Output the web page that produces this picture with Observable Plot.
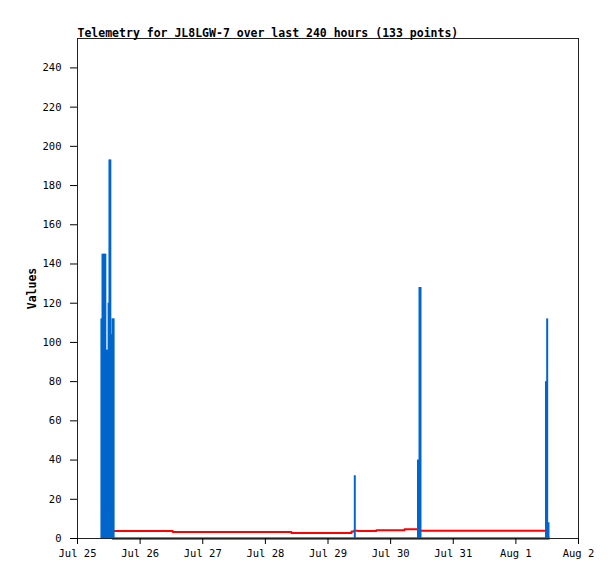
<!DOCTYPE html>
<html>
<head>
<meta charset="utf-8">
<script src="https://cdn.jsdelivr.net/npm/d3@7"></script>
<script src="https://cdn.jsdelivr.net/npm/@observablehq/plot@0.6"></script>
<style>
  body { margin: 0; background: #fff; }
</style>
</head>
<body>
<div id="chart"></div>
<script>
const title = "Telemetry for JL8LGW-7 over last 240 hours (133 points)"

// blue channel (impulses)
const blueTimes = [
  "2024-07-25T09:10", "2024-07-25T09:35", "2024-07-25T10:00", "2024-07-25T10:20",
  "2024-07-25T10:40", "2024-07-25T11:05", "2024-07-25T11:30", "2024-07-25T11:55",
  "2024-07-25T12:15", "2024-07-25T12:35", "2024-07-25T12:50", "2024-07-25T13:00",
  "2024-07-25T13:25", "2024-07-25T13:50",
  "2024-07-29T10:16",
  "2024-07-30T10:29", "2024-07-30T11:04", "2024-07-30T11:27",
  "2024-08-01T11:33", "2024-08-01T12:00", "2024-08-01T12:30"
]
const blueValues = [
  112, 145, 145, 145,
  145, 96, 96, 120,
  193, 193, 104, 15,
  112, 112,
  32,
  40, 128, 128,
  80, 112, 8
]

// red channel (step line)
const redTimes = [
  "2024-07-25T13:00", "2024-07-26T12:31", "2024-07-28T10:00", "2024-07-29T09:00",
  "2024-07-29T10:00", "2024-07-29T11:30", "2024-07-29T18:30", "2024-07-30T05:20",
  "2024-07-30T10:29", "2024-08-01T11:21"
]
const redValues = [3.8, 3.3, 2.8, 3.6, 4.0, 3.8, 4.2, 4.7, 3.9, 3.9]

// black channel (flat at zero)
const blackTimes = ["2024-07-25T13:25", "2024-08-01T12:40"]
const blackValues = [0, 0]

const dayTicks = ["2024-07-25", "2024-07-26", "2024-07-27", "2024-07-28", "2024-07-29",
  "2024-07-30", "2024-07-31", "2024-08-01", "2024-08-02"]
const yTicks = [0, 20, 40, 60, 80, 100, 120, 140, 160, 180, 200, 220, 240]

const toDate = s => new Date(s + (s.length > 10 ? ":00Z" : "T00:00:00Z"))
const blue = blueTimes.map((t, i) => ({t: toDate(t), v: blueValues[i]}))
const red = redTimes.map((t, i) => ({t: toDate(t), v: redValues[i]}))
const black = blackTimes.map((t, i) => ({t: toDate(t), v: blackValues[i]}))

const chart = Plot.plot({
  width: 615,
  height: 579,
  marginLeft: 77,
  marginRight: 37,
  marginTop: 38,
  marginBottom: 41,
  style: {fontFamily: "'DejaVu Sans Mono', monospace", fontSize: "10.5px", color: "#000", background: "#fff"},
  x: {type: "utc", domain: [toDate(dayTicks[0]), toDate(dayTicks[dayTicks.length - 1])]},
  y: {domain: [0, 255]},
  marks: [
    Plot.line(black, {x: "t", y: "v", stroke: "#000", strokeWidth: 2}),
    Plot.line(red, {x: "t", y: "v", curve: "step-after", stroke: "#ff0000", strokeWidth: 2}),
    Plot.ruleX(blue, {x: "t", y1: 0, y2: "v", stroke: "#0066cc", strokeWidth: 2}),
    Plot.frame({stroke: "#222", strokeWidth: 1}),
    Plot.axisY({ticks: yTicks, tickSize: 7, tickPadding: 9, label: null}),
    Plot.axisX({ticks: dayTicks.map(toDate), tickFormat: d3.utcFormat("%b %-d"), tickSize: 6, tickPadding: 5, label: null}),
    Plot.text([title], {text: d => d, frameAnchor: "top-left", textAnchor: "start", lineAnchor: "bottom", dy: -2, fontWeight: "bold", fontSize: 11.5}),
    Plot.text(["Values"], {text: d => d, frameAnchor: "left", rotate: -90, textAnchor: "middle", lineAnchor: "middle", dx: -45, fontWeight: "bold", fontSize: 11.5})
  ]
})
document.getElementById("chart").append(chart)
</script>
</body>
</html>
